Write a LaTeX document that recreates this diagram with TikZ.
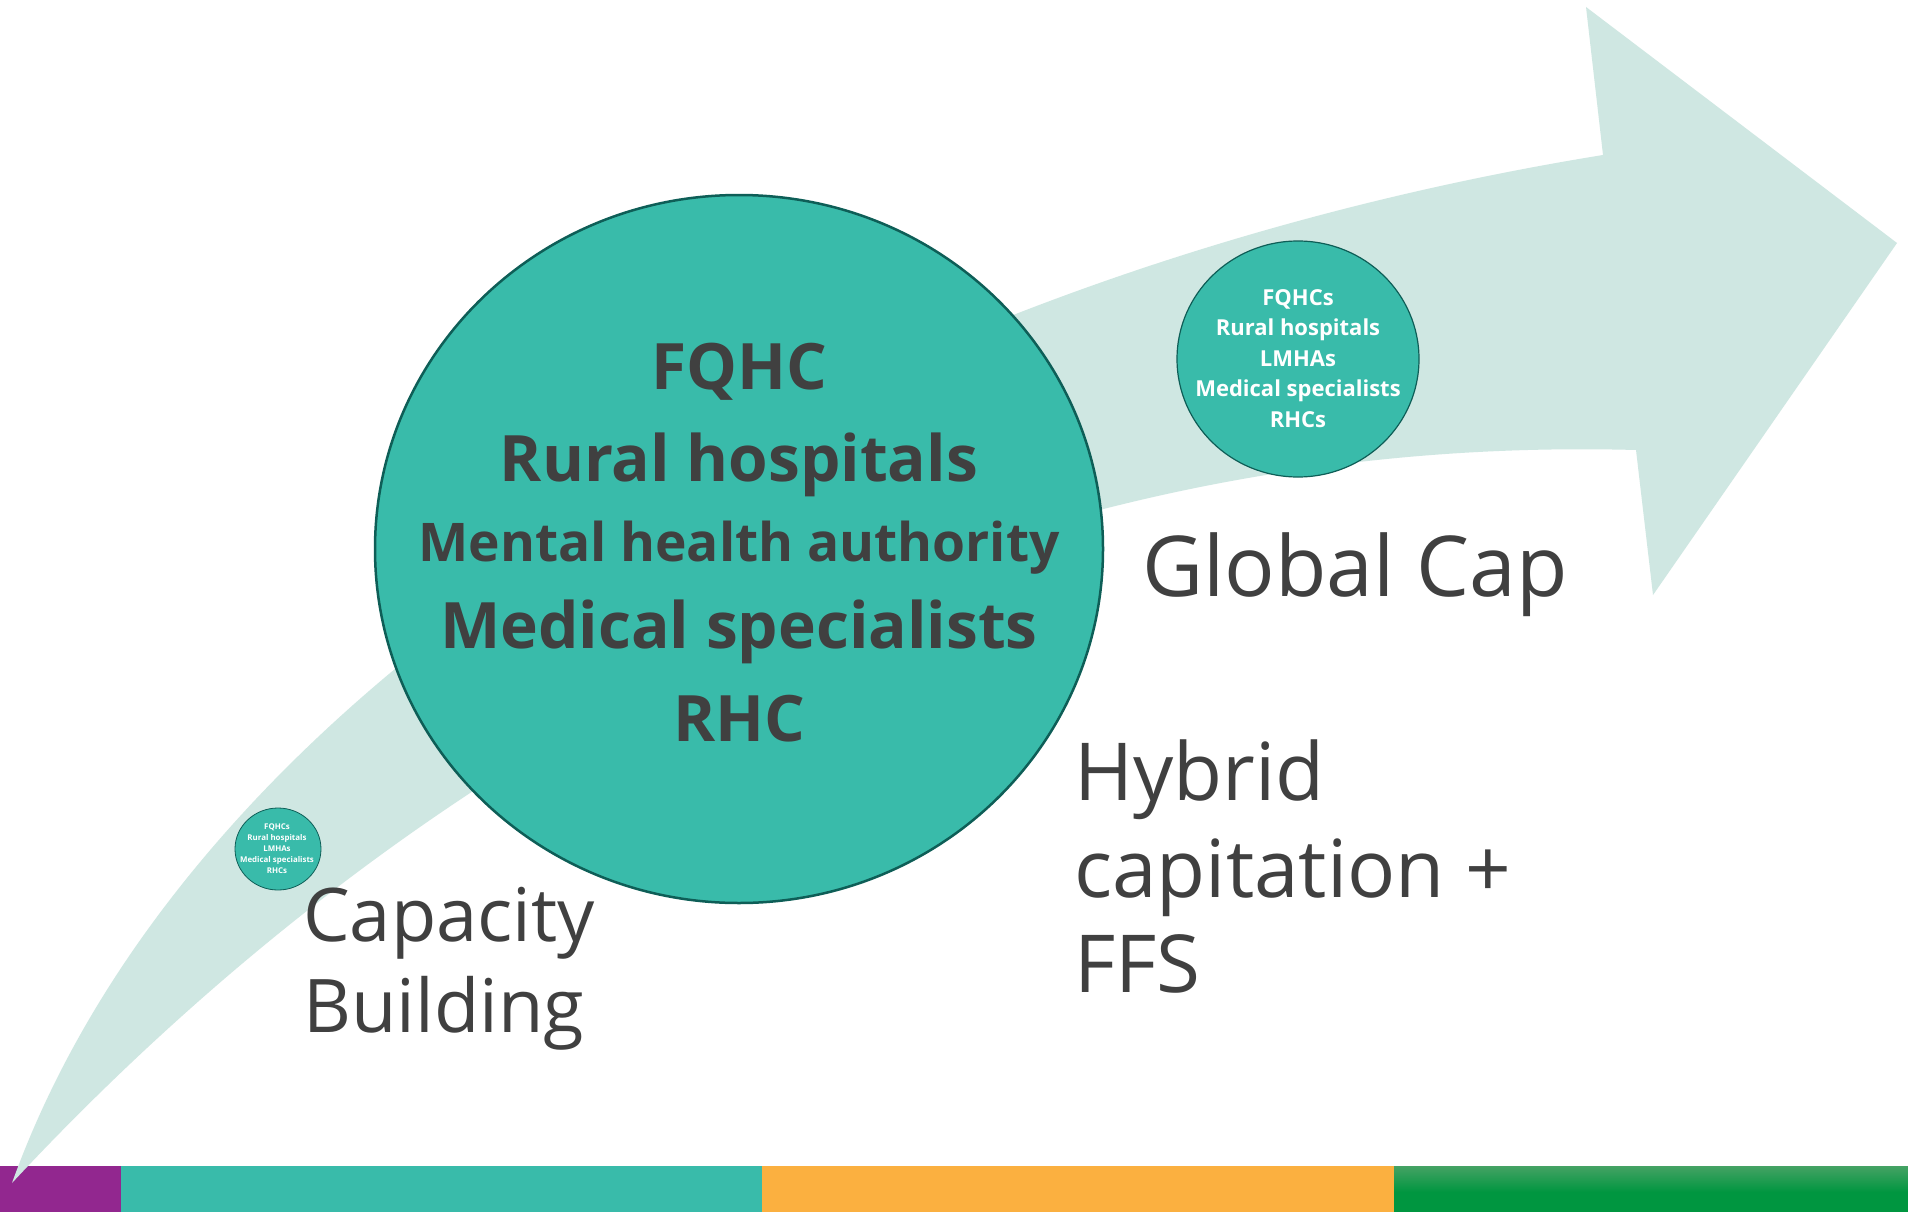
\documentclass[tikz,border=0pt]{standalone}
\usepackage{fontspec}
\setmainfont{Open Sans}
\usetikzlibrary{shapes.geometric}
\definecolor{tealc}{HTML}{39BBAA}
\definecolor{rimc}{HTML}{0E5E57}
\definecolor{arrowc}{HTML}{CFE7E2}
\definecolor{txtc}{HTML}{404040}
\definecolor{purplec}{HTML}{92278F}
\definecolor{orangec}{HTML}{FBB040}
\definecolor{greenc}{HTML}{009640}
\definecolor{greenlt}{HTML}{45A264}
\tikzset{
  bubble/.style={ellipse, draw=rimc, fill=tealc, inner sep=0pt},
  bigtxt/.style={text=txtc, inner sep=0pt, anchor=base, font=\bfseries\fontsize{64}{77}\selectfont},
  midtxt/.style={text=white, inner sep=0pt, anchor=base, font=\bfseries\fontsize{22}{26}\selectfont},
  smalltxt/.style={text=white, inner sep=0pt, anchor=base, font=\bfseries\fontsize{7.9}{9}\selectfont},
  label/.style={text=txtc, inner sep=0pt, anchor=base west, font=\fontsize{80}{96}\selectfont}
}
\begin{document}
\begin{tikzpicture}[x=1pt,y=-1pt]
\useasboundingbox (0,0) rectangle (1908,1212);
\fill[white] (0,0) rectangle (1908,1212);
% bottom bar
\fill[purplec] (0,1166) rectangle (121,1212);
\fill[tealc] (121,1166) rectangle (762,1212);
\fill[orangec] (762,1166) rectangle (1394,1212);
\shade[top color=greenlt, bottom color=greenc] (1394,1166) rectangle (1908,1192);
\fill[greenc] (1394,1191.5) rectangle (1908,1212);
% arrow
\fill[arrowc] (12,1183) .. controls (200,660) and (880,272) .. (1603,155)
  -- (1586,7) -- (1897,243) -- (1653,595) -- (1636,450)
  .. controls (900,430) and (350,820) .. (12,1183) -- cycle;
% circles
\node[bubble, line width=2.5pt, minimum width=728pt, minimum height=708pt] (big) at (739,549) {};
\node[bubble, line width=1.2pt, minimum width=242pt, minimum height=236pt] (mid) at (1298,359) {};
\node[bubble, line width=0.8pt, minimum width=86pt, minimum height=82pt] (small) at (278,849) {};
% big circle text
\node[bigtxt] (b1) at (739,389) {FQHC};
\node[bigtxt] (b2) at (739,481) {Rural hospitals};
\node[bigtxt, font=\bfseries\fontsize{53.3}{64}\selectfont] (b3) at (739,561) {Mental health authority};
\node[bigtxt] (b4) at (739,648) {Medical specialists};
\node[bigtxt] (b5) at (739,741) {RHC};
% mid circle text
\node[midtxt] (m1) at (1298,305) {FQHCs};
\node[midtxt] (m2) at (1298,335) {Rural hospitals};
\node[midtxt] (m3) at (1298,366) {LMHAs};
\node[midtxt] (m4) at (1298,396) {Medical specialists};
\node[midtxt] (m5) at (1298,427) {RHCs};
% small circle text
\node[smalltxt] (s1) at (277,829) {FQHCs};
\node[smalltxt] (s2) at (277,840) {Rural hospitals};
\node[smalltxt] (s3) at (277,851) {LMHAs};
\node[smalltxt] (s4) at (277,862) {Medical specialists};
\node[smalltxt] (s5) at (277,873) {RHCs};
% labels
\node[label, font=\fontsize{84}{100}\selectfont] (gc) at (1142,596) {Global Cap};
\node[label] (h1) at (1074,800) {Hybrid};
\node[label] (h2) at (1074,897) {capitation +};
\node[label] (h3) at (1074,992) {FFS};
\node[label, font=\fontsize{74}{89}\selectfont] (c1) at (303,941) {Capacity};
\node[label, font=\fontsize{74}{89}\selectfont] (c2) at (303,1032) {Building};
\end{tikzpicture}
\end{document}
